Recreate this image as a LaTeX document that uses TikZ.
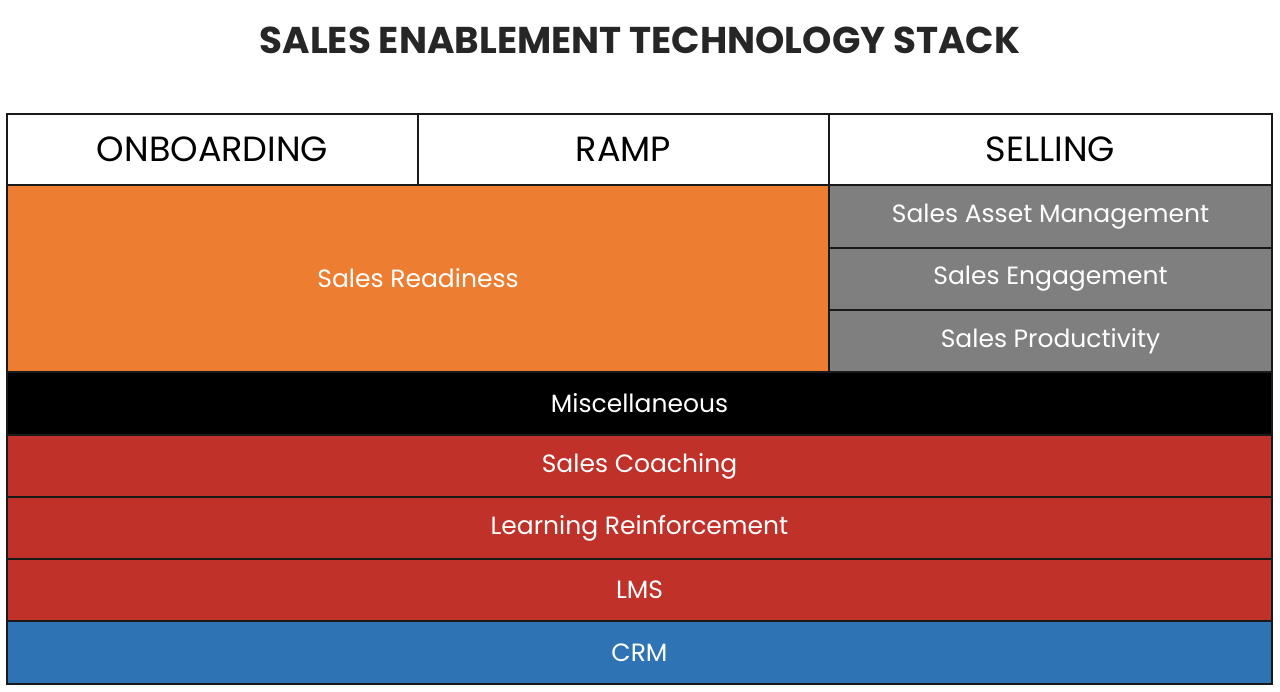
\documentclass[tikz,border=0pt]{standalone}
\usepackage{fontspec}
\setmainfont{Poppins}
\definecolor{readyorange}{HTML}{ED7D31}
\definecolor{sellgray}{HTML}{7F7F7F}
\definecolor{coachred}{HTML}{C0312A}
\definecolor{crmblue}{HTML}{2E74B5}
\definecolor{titlegray}{HTML}{262626}
\tikzset{
  cell/.style={draw=black!90, line width=1.5pt},
  celltext/.style={text=white, font=\fontsize{25}{28}\selectfont},
  headtext/.style={text=black, font=\fontsize{35}{38}\selectfont}
}

\begin{document}
\begin{tikzpicture}[x=1pt, y=-1pt]
    \useasboundingbox (0,0) rectangle (1280,691);

    % Title
    \node[text=titlegray, font=\bfseries\fontsize{37.3}{40}\selectfont] (title) at (640,40) {SALES ENABLEMENT TECHNOLOGY STACK};

    % Phases
    \draw[cell, fill=white] (7,114) rectangle (418,185) node[midway, headtext] (onboarding) {ONBOARDING};
    \draw[cell, fill=white] (418,114) rectangle (829,185) node[midway, headtext] (ramp) {RAMP};
    \draw[cell, fill=white] (829,114) rectangle (1272,185) node[midway, headtext] (selling) {SELLING};

    % Readiness and selling tools
    \draw[cell, fill=readyorange] (7,185) rectangle (829,372) node[midway, celltext] (readiness) {Sales Readiness};
    \draw[cell, fill=sellgray] (829,185) rectangle (1272,248) node[midway, celltext] (asset) {Sales Asset Management};
    \draw[cell, fill=sellgray] (829,248) rectangle (1272,310) node[midway, celltext] (engagement) {Sales Engagement};
    \draw[cell, fill=sellgray] (829,310) rectangle (1272,372) node[midway, celltext] (productivity) {Sales Productivity};

    % Base layers
    \draw[cell, fill=black] (7,372) rectangle (1272,435) node[midway, celltext] (misc) {Miscellaneous};
    \draw[cell, fill=coachred] (7,435) rectangle (1272,497) node[midway, celltext] (coaching) {Sales Coaching};
    \draw[cell, fill=coachred] (7,497) rectangle (1272,559) node[midway, celltext] (reinforce) {Learning Reinforcement};
    \draw[cell, fill=coachred] (7,559) rectangle (1272,621) node[midway, celltext] (lms) {LMS};
    \draw[cell, fill=crmblue] (7,621) rectangle (1272,684) node[midway, celltext] (crm) {CRM};
\end{tikzpicture}
\end{document}
